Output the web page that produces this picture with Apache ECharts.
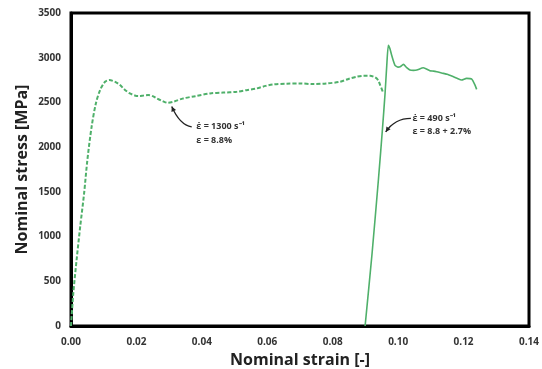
<!DOCTYPE html>
<html><head><meta charset="utf-8">
<script src="https://cdn.jsdelivr.net/npm/echarts@6/dist/echarts.min.js"></script>
<style>html,body{margin:0;padding:0;background:#fff}#c{width:542px;height:369px}</style>
</head><body><div id="c"></div>
<script>
var dashStrain = [0, 0.0007, 0.0017, 0.0028, 0.0040, 0.0050, 0.0063, 0.0076, 0.0089, 0.0104, 0.0117, 0.0135, 0.0150, 0.0165, 0.0180, 0.0195, 0.0206, 0.0222, 0.0236, 0.0250, 0.0262, 0.0280, 0.0295, 0.0315, 0.0343, 0.0380, 0.0425, 0.0465, 0.0507, 0.0540, 0.0568, 0.0595, 0.0618, 0.0660, 0.0700, 0.0740, 0.0780, 0.0822, 0.0850, 0.0873, 0.0895, 0.0914, 0.0925, 0.0934, 0.0940, 0.0945, 0.0950, 0.0953];
var dashStress = [0, 363, 735, 1108, 1482, 1855, 2227, 2489, 2638, 2731, 2750, 2730, 2694, 2640, 2601, 2578, 2571, 2577, 2582, 2570, 2545, 2515, 2496, 2510, 2545, 2570, 2601, 2610, 2619, 2640, 2657, 2685, 2702, 2710, 2713, 2705, 2712, 2731, 2765, 2787, 2798, 2798, 2788, 2769, 2740, 2694, 2650, 2619];
var solidStrain = [0.0899, 0.0920, 0.0940, 0.0952, 0.0960, 0.0965, 0.0970, 0.0975, 0.0980, 0.0990, 0.1000, 0.1006, 0.1016, 0.1026, 0.1036, 0.1047, 0.1057, 0.1077, 0.1097, 0.1108, 0.1118, 0.1138, 0.1150, 0.1169, 0.1180, 0.1194, 0.1209, 0.1225, 0.1235, 0.1240];
var solidStress = [0, 800, 1650, 2200, 2600, 2900, 3140, 3100, 3030, 2918, 2895, 2899, 2925, 2890, 2862, 2858, 2862, 2888, 2854, 2850, 2843, 2825, 2815, 2787, 2770, 2750, 2769, 2761, 2694, 2646];
var xTicks = [0, 0.02, 0.04, 0.06, 0.08, 0.10, 0.12, 0.14];
var yTicks = [0, 500, 1000, 1500, 2000, 2500, 3000, 3500];
var note1 = ['ε̇ = 1300 s⁻¹', 'ε = 8.8%'];
var note2 = ['ε̇ = 490 s⁻¹', 'ε = 8.8 + 2.7%'];

function pairs(xs, ys){ return xs.map(function(x,i){ return [x, ys[i]]; }); }
var green = '#4fb06a';
var chart = echarts.init(document.getElementById('c'));
var font = "'Open Sans', 'Liberation Sans', sans-serif";
chart.setOption({
  animation: false,
  grid: {left: 71, right: 13, top: 13, bottom: 43, outerBoundsMode: 'none', containLabel: false,
    show: true, borderColor: '#000', borderWidth: 3, backgroundColor: '#fff'},
  xAxis: {type: 'value', min: xTicks[0], max: xTicks[xTicks.length-1], interval: 0.02,
    axisLine: {show: true, lineStyle: {color: '#000', width: 3}},
    axisTick: {show: false}, splitLine: {show: false},
    axisLabel: {color: '#333', fontWeight: 'bold', fontSize: 10, fontFamily: font, margin: 11,
      formatter: function(v){ return v.toFixed(2); }},
    name: 'Nominal strain [-]', nameLocation: 'middle', nameGap: 26, nameMoveOverlap: false,
    nameTextStyle: {color: '#222', fontWeight: 'bold', fontSize: 16, fontFamily: font}},
  yAxis: {type: 'value', min: yTicks[0], max: yTicks[yTicks.length-1], interval: 500,
    axisLine: {show: true, lineStyle: {color: '#000', width: 3}},
    axisTick: {show: false}, splitLine: {show: false},
    axisLabel: {color: '#333', fontWeight: 'bold', fontSize: 10, fontFamily: font, margin: 10,
      formatter: function(v){ return String(v); }},
    name: 'Nominal stress [MPa]', nameLocation: 'middle', nameGap: 41, nameMoveOverlap: false,
    nameTextStyle: {color: '#222', fontWeight: 'bold', fontSize: 16, fontFamily: font}},
  series: [
    {type: 'line', data: pairs(dashStrain, dashStress), showSymbol: false, smooth: 0.3,
     lineStyle: {color: green, width: 2, type: [4, 2]}},
    {type: 'line', data: pairs(solidStrain, solidStress), showSymbol: false, smooth: 0.2,
     lineStyle: {color: green, width: 1.6}}
  ]
});
function P(x,y){ return chart.convertToPixel({gridIndex:0}, [x,y]); }
var tstyle = {fill: '#333', font: 'bold 9px ' + font};
var a1s = P(0.0369, 2227), a1e = P(0.0308, 2455);
var a2s = P(0.1039, 2321), a2e = P(0.0962, 2170);
var t1 = P(0.0383, 2227), t1b = P(0.0383, 2070);
var t2 = P(0.1044, 2321), t2b = P(0.1044, 2171);
function head(tip, from){
  var dx = tip[0]-from[0], dy = tip[1]-from[1], L = Math.sqrt(dx*dx+dy*dy); dx/=L; dy/=L;
  var bx = tip[0]-dx*5, by = tip[1]-dy*5;
  return {type:'polygon', shape:{points:[tip,[bx-dy*2.5,by+dx*2.5],[bx+dy*2.5,by-dx*2.5]]}, style:{fill:'#222'}};
}
chart.setOption({graphic: [
  {type:'bezierCurve', shape:{x1:a1s[0],y1:a1s[1],x2:a1e[0],y2:a1e[1],cpx1:a1s[0]-12,cpy1:a1s[1]-2}, style:{stroke:'#222',lineWidth:1.3,fill:null}},
  head(a1e, [a1s[0]-12, a1s[1]-2]),
  {type:'bezierCurve', shape:{x1:a2s[0],y1:a2s[1],x2:a2e[0],y2:a2e[1],cpx1:a2s[0]-16,cpy1:a2s[1]}, style:{stroke:'#222',lineWidth:1.3,fill:null}},
  head(a2e, [a2s[0]-16, a2s[1]]),
  {type:'text', x:t1[0], y:t1[1], style:Object.assign({text:note1[0], textVerticalAlign:'middle'}, tstyle)},
  {type:'text', x:t1b[0], y:t1b[1], style:Object.assign({text:note1[1], textVerticalAlign:'middle'}, tstyle)},
  {type:'text', x:t2[0], y:t2[1], style:Object.assign({text:note2[0], textVerticalAlign:'middle'}, tstyle)},
  {type:'text', x:t2b[0], y:t2b[1], style:Object.assign({text:note2[1], textVerticalAlign:'middle'}, tstyle)}
]});
</script></body></html>
